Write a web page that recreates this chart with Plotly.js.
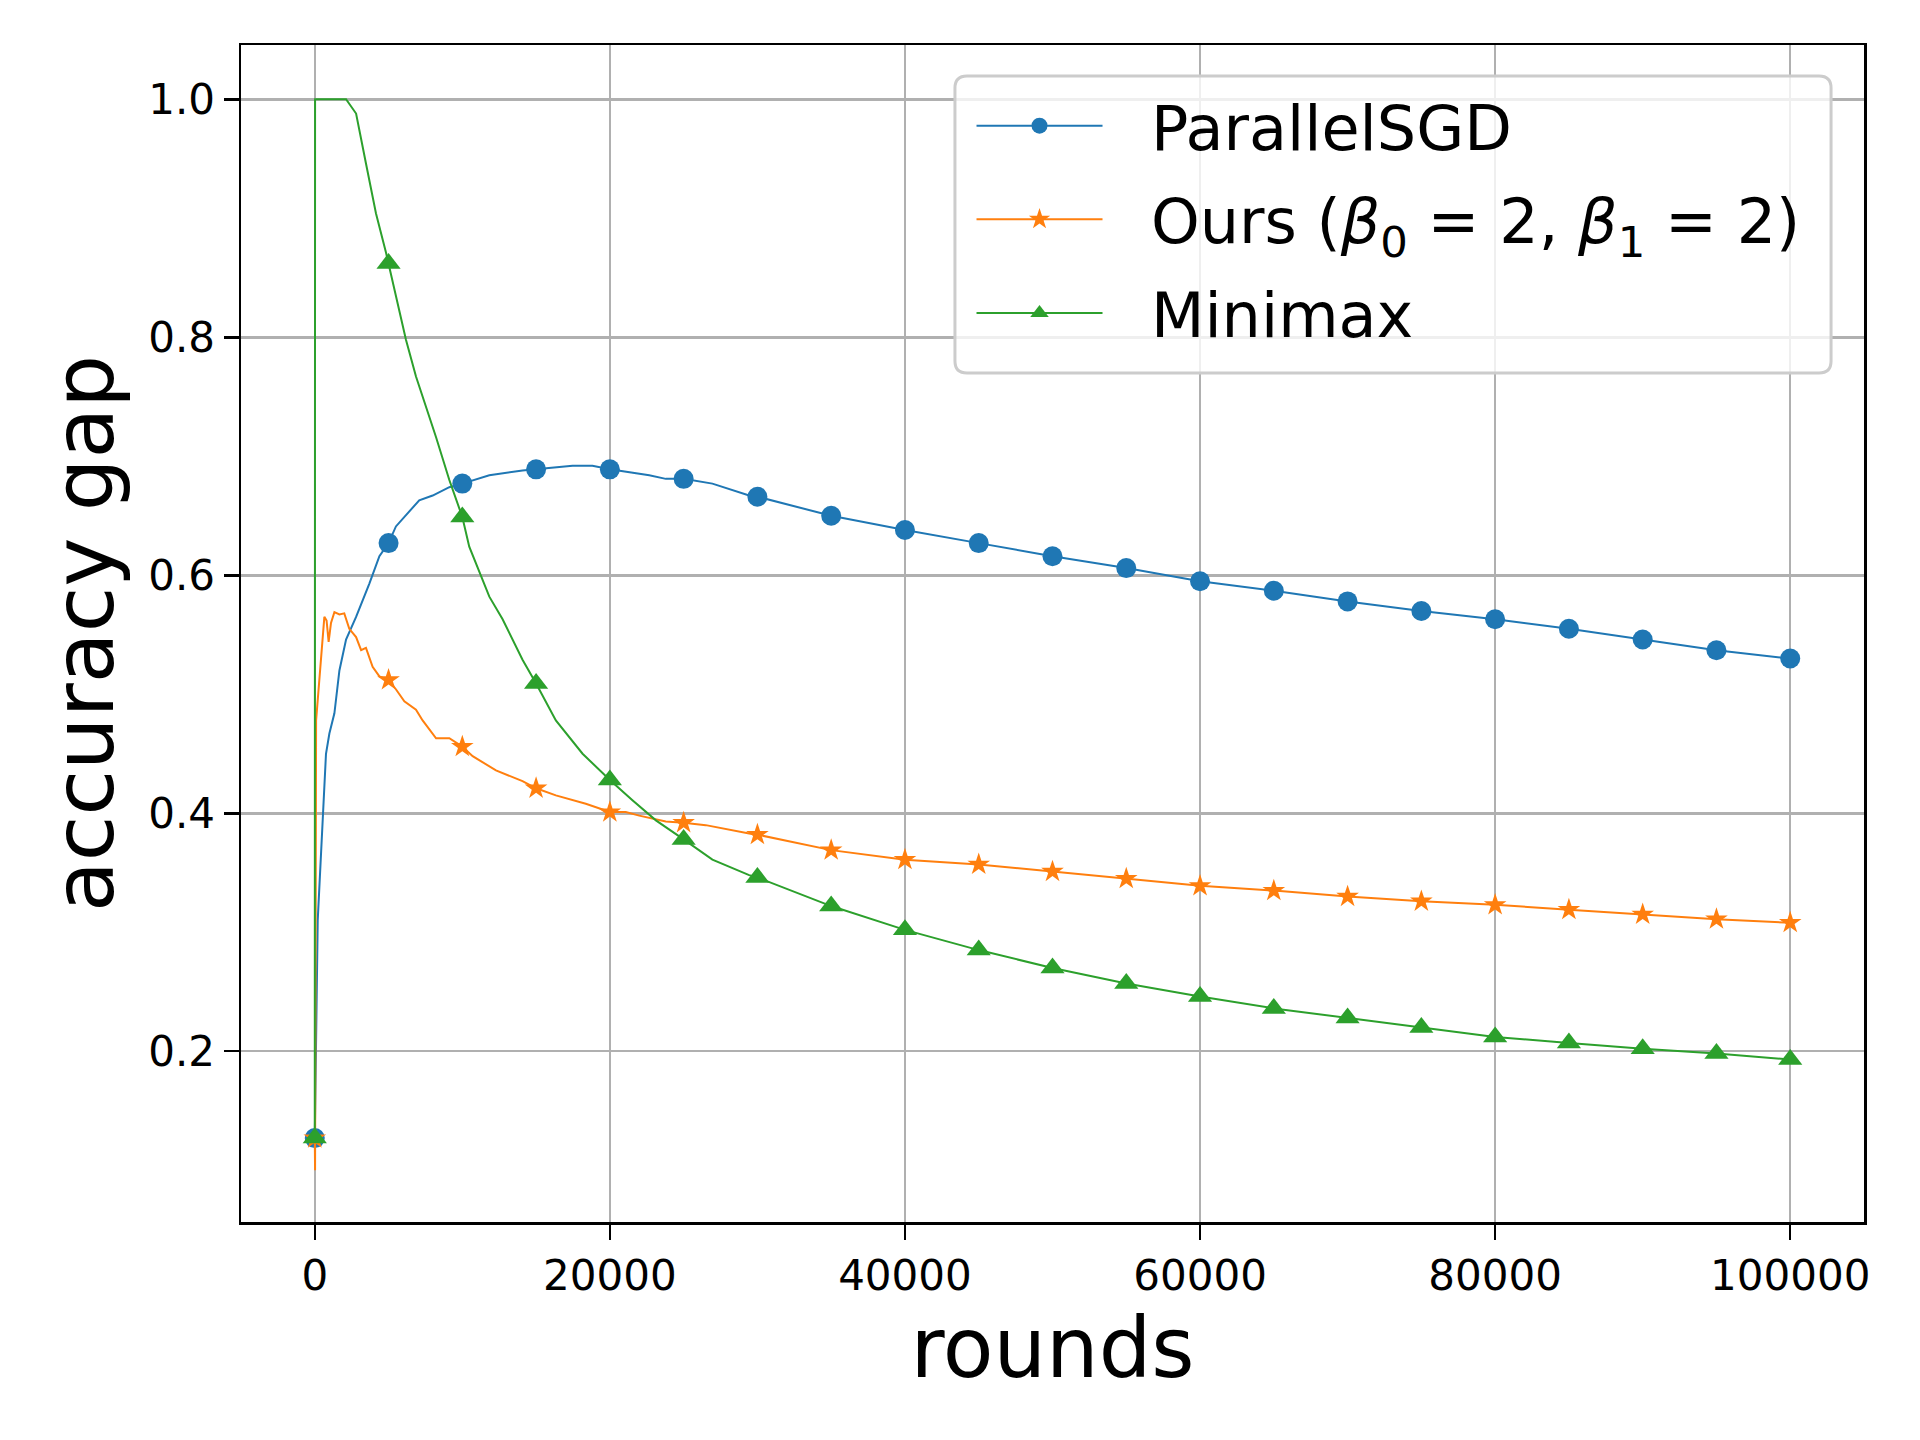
<!DOCTYPE html>
<html>
<head>
<meta charset="utf-8">
<script src="https://cdn.plot.ly/plotly-3.0.1.min.js"></script>
<style>
  html, body { margin: 0; padding: 0; background: #fff; }
  #myDiv { width: 1920px; height: 1440px; }
</style>
</head>
<body>
<div id="myDiv"></div>
<script>
// rounds at which markers are drawn (markevery 5000)
var markRounds = [0, 5000, 10000, 15000, 20000, 25000, 30000, 35000, 40000, 45000, 50000,
    55000, 60000, 65000, 70000, 75000, 80000, 85000, 90000, 95000, 100000];

// ParallelSGD
var sgdMarks = [0.127, 0.627, 0.677, 0.689, 0.689, 0.681, 0.666, 0.650, 0.638, 0.627, 0.616,
    0.606, 0.595, 0.587, 0.578, 0.570, 0.563, 0.555, 0.546, 0.537, 0.530];
var sgdX = [0, 200, 540, 760, 990, 1330, 1670, 2120, 2800, 3700, 4380, 5000, 5500, 7080, 7990,
    9120, 10000, 11830, 14080, 15000, 17470, 18820, 20000, 22670, 23790, 25000, 26950, 29440,
    30000, 35000, 40000, 45000, 50000, 55000, 60000, 65000, 70000, 75000, 80000, 85000, 90000,
    95000, 100000];
var sgdY = [0.127, 0.310, 0.395, 0.450, 0.467, 0.484, 0.520, 0.546, 0.565, 0.593, 0.616, 0.627,
    0.641, 0.663, 0.667, 0.674, 0.677, 0.684, 0.688, 0.689, 0.692, 0.692, 0.689, 0.684, 0.681,
    0.681, 0.677, 0.667, 0.666, 0.650, 0.638, 0.627, 0.616, 0.606, 0.595, 0.587, 0.578, 0.570,
    0.563, 0.555, 0.546, 0.537, 0.530];

// Ours
var oursMarks = [0.127, 0.512, 0.456, 0.421, 0.401, 0.392, 0.382, 0.369, 0.361, 0.357, 0.351,
    0.345, 0.339, 0.335, 0.330, 0.326, 0.323, 0.319, 0.315, 0.311, 0.308];
var oursX = [0, 20, 90, 310, 540, 650, 800, 940, 1100, 1330, 1670, 2000, 2340, 2800, 3140, 3470,
    3920, 4380, 5000, 5510, 6070, 6860, 7310, 8220, 9120, 10000, 10700, 12280, 14080, 15000,
    16340, 18370, 20000, 21080, 21990, 23790, 25000, 26500, 29440, 30000, 35000, 40000, 45000,
    50000, 55000, 60000, 65000, 70000, 75000, 80000, 85000, 90000, 95000, 100000];
var oursY = [0.127, 0.100, 0.478, 0.512, 0.554, 0.565, 0.562, 0.544, 0.560, 0.569, 0.567, 0.568,
    0.555, 0.548, 0.537, 0.539, 0.523, 0.515, 0.512, 0.504, 0.494, 0.487, 0.478, 0.463, 0.463,
    0.456, 0.448, 0.436, 0.427, 0.421, 0.415, 0.408, 0.401, 0.401, 0.398, 0.393, 0.392, 0.390,
    0.383, 0.382, 0.369, 0.361, 0.357, 0.351, 0.345, 0.339, 0.335, 0.330, 0.326, 0.323, 0.319,
    0.315, 0.311, 0.308];

// Minimax
var minimaxMarks = [0.127, 0.862, 0.649, 0.509, 0.428, 0.378, 0.346, 0.322, 0.302, 0.285, 0.270,
    0.257, 0.246, 0.236, 0.228, 0.220, 0.212, 0.207, 0.202, 0.198, 0.193];
var minimaxX = [0, 20, 2120, 2800, 3470, 4150, 4830, 5000, 6180, 6860, 8220, 9120, 10000, 10470,
    11830, 12730, 14080, 15000, 16340, 18150, 20000, 21530, 23120, 25000, 26950, 29440, 30000,
    35000, 40000, 45000, 50000, 55000, 60000, 65000, 70000, 75000, 80000, 85000, 90000, 95000,
    100000];
var minimaxY = [0.127, 1.000, 1.000, 0.988, 0.946, 0.904, 0.871, 0.862, 0.798, 0.767, 0.716,
    0.680, 0.649, 0.624, 0.582, 0.563, 0.529, 0.509, 0.478, 0.450, 0.428, 0.411, 0.394, 0.378,
    0.361, 0.348, 0.346, 0.322, 0.302, 0.285, 0.270, 0.257, 0.246, 0.236, 0.228, 0.220, 0.212,
    0.207, 0.202, 0.198, 0.193];

var seriesNames = ['ParallelSGD', 'Ours (<i>β</i><sub>0</sub> = 2, <i>β</i><sub>1</sub> = 2)', 'Minimax'];
var colors = ['#1f77b4', '#ff7f0e', '#2ca02c'];
var symbols = ['circle', 'star', 'triangle-up'];
var msize = [20, 17, 21];

var lineX = [sgdX, oursX, minimaxX];
var lineY = [sgdY, oursY, minimaxY];
var markY = [sgdMarks, oursMarks, minimaxMarks];

var data = [];
for (var i = 0; i < 3; i++) {
    data.push({
        x: lineX[i], y: lineY[i], type: 'scatter', mode: 'lines',
        line: {color: colors[i], width: 2},
        legendgroup: 'g' + i, showlegend: false, hoverinfo: 'skip'
    });
    data.push({
        x: markRounds, y: markY[i], type: 'scatter', mode: 'markers',
        marker: {color: colors[i], symbol: symbols[i], size: msize[i], line: {width: 0}},
        legendgroup: 'g' + i, showlegend: false
    });
}
// legend entries (line + marker)
var gap = '\u2002\u2009';
for (var j = 0; j < 3; j++) {
    data.push({
        x: [null], y: [null], type: 'scatter', mode: 'lines+markers', name: gap + seriesNames[j],
        line: {color: colors[j], width: 2},
        marker: {color: colors[j], symbol: symbols[j], size: msize[j]},
        legendgroup: 'g' + j, showlegend: true
    });
}

// legend frame with rounded corners (paper coords)
var bx0 = 0.4399, bx1 = 0.9797, by0 = 0.7213, by1 = 0.9737, rx = 0.0074, ry = 0.0102;
var framePath = 'M' + (bx0 + rx) + ',' + by1 + ' L' + (bx1 - rx) + ',' + by1 +
    ' Q' + bx1 + ',' + by1 + ' ' + bx1 + ',' + (by1 - ry) +
    ' L' + bx1 + ',' + (by0 + ry) + ' Q' + bx1 + ',' + by0 + ' ' + (bx1 - rx) + ',' + by0 +
    ' L' + (bx0 + rx) + ',' + by0 + ' Q' + bx0 + ',' + by0 + ' ' + bx0 + ',' + (by0 + ry) +
    ' L' + bx0 + ',' + (by1 - ry) + ' Q' + bx0 + ',' + by1 + ' ' + (bx0 + rx) + ',' + by1 + ' Z';

var font = 'DejaVu Sans, sans-serif';
var layout = {
    width: 1920,
    height: 1440,
    margin: {l: 241, r: 56, t: 45, b: 218, pad: 0},
    paper_bgcolor: '#ffffff',
    plot_bgcolor: '#ffffff',
    font: {family: font, color: '#000000'},
    showlegend: true,
    legend: {
        x: 0.4501, y: 0.9712, xanchor: 'left', yanchor: 'top',
        bgcolor: 'rgba(0,0,0,0)', borderwidth: 0,
        font: {family: font, size: 62, color: '#000000'},
        itemwidth: 126, tracegroupgap: 10
    },
    shapes: [{
        type: 'path', xref: 'paper', yref: 'paper', path: framePath, layer: 'above',
        fillcolor: 'rgba(255,255,255,0.8)', line: {color: '#cccccc', width: 3}
    }],
    xaxis: {
        range: [-5000, 105000],
        tickmode: 'array',
        tickvals: [0, 20000, 40000, 60000, 80000, 100000],
        tickformat: 'd',
        ticks: 'outside', ticklen: 15, tickwidth: 2.5, tickcolor: '#000',
        tickfont: {family: font, size: 42, color: '#000'},
        showgrid: true, gridcolor: '#b0b0b0', gridwidth: 2.5,
        zeroline: false,
        showline: true, linecolor: '#000', linewidth: 2.5, mirror: true,
        title: {text: 'rounds', font: {family: font, size: 83, color: '#000'}, standoff: 20}
    },
    yaxis: {
        range: [0.0565, 1.0456],
        tickmode: 'array',
        tickvals: [0.2, 0.4, 0.6, 0.8, 1.0],
        tickformat: '.1f',
        ticks: 'outside', ticklen: 15, tickwidth: 2.5, tickcolor: '#000',
        tickfont: {family: font, size: 42, color: '#000'},
        showgrid: true, gridcolor: '#b0b0b0', gridwidth: 2.5,
        zeroline: false,
        showline: true, linecolor: '#000', linewidth: 2.5, mirror: true,
        title: {text: 'accuracy gap', font: {family: font, size: 83, color: '#000'}, standoff: 8}
    }
};

Plotly.newPlot('myDiv', data, layout, {staticPlot: true});
</script>
</body>
</html>
